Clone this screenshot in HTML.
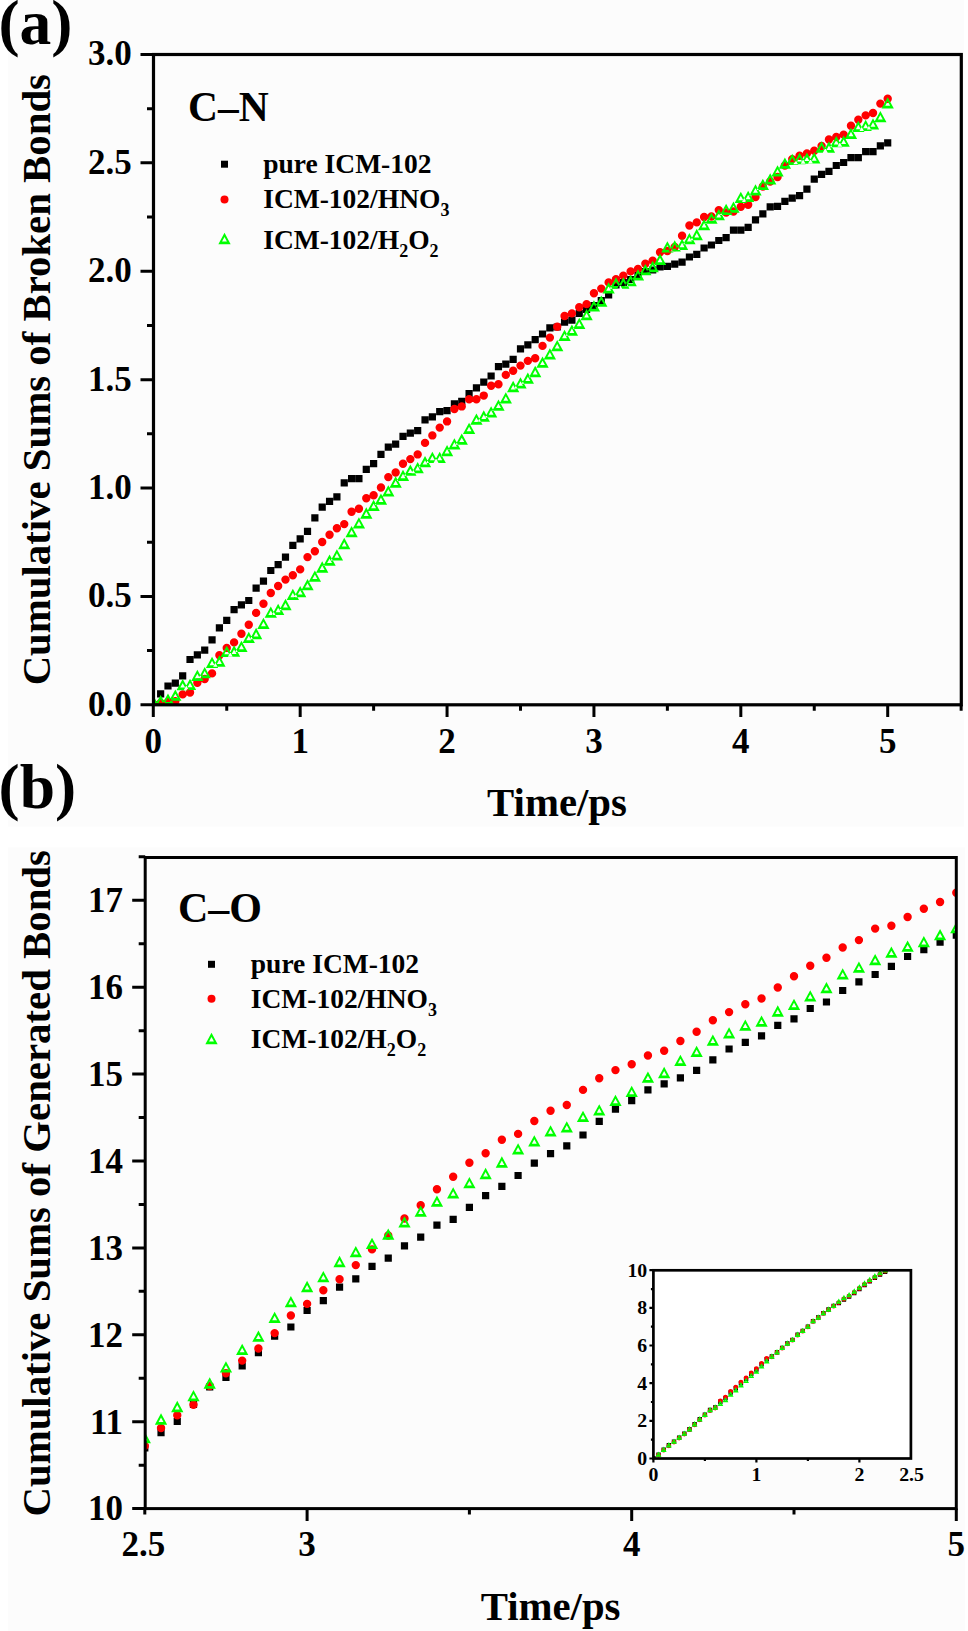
<!DOCTYPE html><html><head><meta charset="utf-8"><style>html,body{margin:0;padding:0;background:#fff;}svg{display:block;}</style></head><body>
<svg width="968" height="1631" viewBox="0 0 968 1631">
<rect x="0" y="0" width="968" height="1631" fill="#ffffff"/>
<rect x="8" y="0" width="956" height="826.5" fill="#fcfcfc"/>
<rect x="8" y="847.5" width="957" height="783.5" fill="#fcfcfc"/>
<defs><clipPath id="ca"><rect x="153.5" y="54.5" width="807.8" height="650.3"/></clipPath>
<clipPath id="cb"><rect x="145.2" y="857.5" width="811.1" height="651.1"/></clipPath>
<clipPath id="ci"><rect x="653.4" y="1270.3" width="257.5" height="188.2"/></clipPath></defs>
<g clip-path="url(#ca)">
<path d="M149.7 701.2h7.2v7.2h-7.2zM157.04 690.3h7.2v7.2h-7.2zM164.39 682.4h7.2v7.2h-7.2zM171.73 679.6h7.2v7.2h-7.2zM179.08 672.2h7.2v7.2h-7.2zM186.42 655.9h7.2v7.2h-7.2zM193.76 651.3h7.2v7.2h-7.2zM201.11 646.6h7.2v7.2h-7.2zM208.45 636.2h7.2v7.2h-7.2zM215.8 624.3h7.2v7.2h-7.2zM223.14 616.7h7.2v7.2h-7.2zM230.48 606.1h7.2v7.2h-7.2zM237.83 601.2h7.2v7.2h-7.2zM245.17 596.9h7.2v7.2h-7.2zM252.52 584.6h7.2v7.2h-7.2zM259.86 577.6h7.2v7.2h-7.2zM267.2 566.9h7.2v7.2h-7.2zM274.55 561h7.2v7.2h-7.2zM281.89 553.5h7.2v7.2h-7.2zM289.24 541.7h7.2v7.2h-7.2zM296.58 535.2h7.2v7.2h-7.2zM303.92 527.7h7.2v7.2h-7.2zM311.27 514.3h7.2v7.2h-7.2zM318.61 503.6h7.2v7.2h-7.2zM325.96 497.7h7.2v7.2h-7.2zM333.3 493.2h7.2v7.2h-7.2zM340.64 479.2h7.2v7.2h-7.2zM347.99 475.1h7.2v7.2h-7.2zM355.33 475.1h7.2v7.2h-7.2zM362.68 465.8h7.2v7.2h-7.2zM370.02 460.1h7.2v7.2h-7.2zM377.36 450.8h7.2v7.2h-7.2zM384.71 443.6h7.2v7.2h-7.2zM392.05 440.5h7.2v7.2h-7.2zM399.4 432.7h7.2v7.2h-7.2zM406.74 429.6h7.2v7.2h-7.2zM414.08 427.1h7.2v7.2h-7.2zM421.43 416.3h7.2v7.2h-7.2zM428.77 413.2h7.2v7.2h-7.2zM436.12 408h7.2v7.2h-7.2zM443.46 407h7.2v7.2h-7.2zM450.8 400.3h7.2v7.2h-7.2zM458.15 397.7h7.2v7.2h-7.2zM465.49 389.9h7.2v7.2h-7.2zM472.84 384.3h7.2v7.2h-7.2zM480.18 378.6h7.2v7.2h-7.2zM487.52 372.4h7.2v7.2h-7.2zM494.87 363.1h7.2v7.2h-7.2zM502.21 360.5h7.2v7.2h-7.2zM509.56 355.8h7.2v7.2h-7.2zM516.9 345.2h7.2v7.2h-7.2zM524.24 341.3h7.2v7.2h-7.2zM531.59 336.1h7.2v7.2h-7.2zM538.93 330.4h7.2v7.2h-7.2zM546.28 324.2h7.2v7.2h-7.2zM553.62 323.4h7.2v7.2h-7.2zM560.96 318.5h7.2v7.2h-7.2zM568.31 316.5h7.2v7.2h-7.2zM575.65 309.9h7.2v7.2h-7.2zM583 305.9h7.2v7.2h-7.2zM590.34 301.9h7.2v7.2h-7.2zM597.68 296.9h7.2v7.2h-7.2zM605.03 291.4h7.2v7.2h-7.2zM612.37 281.4h7.2v7.2h-7.2zM619.72 278.9h7.2v7.2h-7.2zM627.06 275.9h7.2v7.2h-7.2zM634.4 271.9h7.2v7.2h-7.2zM641.75 267.9h7.2v7.2h-7.2zM649.09 266.4h7.2v7.2h-7.2zM656.44 263.4h7.2v7.2h-7.2zM663.78 262.7h7.2v7.2h-7.2zM671.12 260.6h7.2v7.2h-7.2zM678.47 258.5h7.2v7.2h-7.2zM685.81 253.4h7.2v7.2h-7.2zM693.16 250.8h7.2v7.2h-7.2zM700.5 244.4h7.2v7.2h-7.2zM707.84 241.4h7.2v7.2h-7.2zM715.19 236.9h7.2v7.2h-7.2zM722.53 234.1h7.2v7.2h-7.2zM729.88 226.5h7.2v7.2h-7.2zM737.22 226.5h7.2v7.2h-7.2zM744.56 223.8h7.2v7.2h-7.2zM751.91 216.2h7.2v7.2h-7.2zM759.25 210.3h7.2v7.2h-7.2zM766.6 203.2h7.2v7.2h-7.2zM773.94 202.7h7.2v7.2h-7.2zM781.28 197.8h7.2v7.2h-7.2zM788.63 194.6h7.2v7.2h-7.2zM795.97 192h7.2v7.2h-7.2zM803.32 185.6h7.2v7.2h-7.2zM810.66 175.6h7.2v7.2h-7.2zM818 170.7h7.2v7.2h-7.2zM825.35 167.8h7.2v7.2h-7.2zM832.69 161.9h7.2v7.2h-7.2zM840.04 158.9h7.2v7.2h-7.2zM847.38 154h7.2v7.2h-7.2zM854.72 154h7.2v7.2h-7.2zM862.07 148.1h7.2v7.2h-7.2zM869.41 148.1h7.2v7.2h-7.2zM876.76 142.2h7.2v7.2h-7.2zM884.1 139.3h7.2v7.2h-7.2z" fill="#000"/>
<path d="M149.1 704.8a4.2 4.2 0 1 0 8.4 0a4.2 4.2 0 1 0 -8.4 0zM156.44 703a4.2 4.2 0 1 0 8.4 0a4.2 4.2 0 1 0 -8.4 0zM163.79 702a4.2 4.2 0 1 0 8.4 0a4.2 4.2 0 1 0 -8.4 0zM171.13 701.3a4.2 4.2 0 1 0 8.4 0a4.2 4.2 0 1 0 -8.4 0zM178.48 694.4a4.2 4.2 0 1 0 8.4 0a4.2 4.2 0 1 0 -8.4 0zM185.82 692.5a4.2 4.2 0 1 0 8.4 0a4.2 4.2 0 1 0 -8.4 0zM193.16 682.7a4.2 4.2 0 1 0 8.4 0a4.2 4.2 0 1 0 -8.4 0zM200.51 679a4.2 4.2 0 1 0 8.4 0a4.2 4.2 0 1 0 -8.4 0zM207.85 673.4a4.2 4.2 0 1 0 8.4 0a4.2 4.2 0 1 0 -8.4 0zM215.2 655.3a4.2 4.2 0 1 0 8.4 0a4.2 4.2 0 1 0 -8.4 0zM222.54 647.9a4.2 4.2 0 1 0 8.4 0a4.2 4.2 0 1 0 -8.4 0zM229.88 642.4a4.2 4.2 0 1 0 8.4 0a4.2 4.2 0 1 0 -8.4 0zM237.23 633.8a4.2 4.2 0 1 0 8.4 0a4.2 4.2 0 1 0 -8.4 0zM244.57 624.7a4.2 4.2 0 1 0 8.4 0a4.2 4.2 0 1 0 -8.4 0zM251.92 612.9a4.2 4.2 0 1 0 8.4 0a4.2 4.2 0 1 0 -8.4 0zM259.26 603.7a4.2 4.2 0 1 0 8.4 0a4.2 4.2 0 1 0 -8.4 0zM266.6 593a4.2 4.2 0 1 0 8.4 0a4.2 4.2 0 1 0 -8.4 0zM273.95 586a4.2 4.2 0 1 0 8.4 0a4.2 4.2 0 1 0 -8.4 0zM281.29 579.6a4.2 4.2 0 1 0 8.4 0a4.2 4.2 0 1 0 -8.4 0zM288.64 575.3a4.2 4.2 0 1 0 8.4 0a4.2 4.2 0 1 0 -8.4 0zM295.98 569.4a4.2 4.2 0 1 0 8.4 0a4.2 4.2 0 1 0 -8.4 0zM303.32 557.1a4.2 4.2 0 1 0 8.4 0a4.2 4.2 0 1 0 -8.4 0zM310.67 551.2a4.2 4.2 0 1 0 8.4 0a4.2 4.2 0 1 0 -8.4 0zM318.01 542a4.2 4.2 0 1 0 8.4 0a4.2 4.2 0 1 0 -8.4 0zM325.36 534.8a4.2 4.2 0 1 0 8.4 0a4.2 4.2 0 1 0 -8.4 0zM332.7 528.3a4.2 4.2 0 1 0 8.4 0a4.2 4.2 0 1 0 -8.4 0zM340.04 524.1a4.2 4.2 0 1 0 8.4 0a4.2 4.2 0 1 0 -8.4 0zM347.39 511.8a4.2 4.2 0 1 0 8.4 0a4.2 4.2 0 1 0 -8.4 0zM354.73 508.7a4.2 4.2 0 1 0 8.4 0a4.2 4.2 0 1 0 -8.4 0zM362.08 498.3a4.2 4.2 0 1 0 8.4 0a4.2 4.2 0 1 0 -8.4 0zM369.42 495.2a4.2 4.2 0 1 0 8.4 0a4.2 4.2 0 1 0 -8.4 0zM376.76 487.5a4.2 4.2 0 1 0 8.4 0a4.2 4.2 0 1 0 -8.4 0zM384.11 477.1a4.2 4.2 0 1 0 8.4 0a4.2 4.2 0 1 0 -8.4 0zM391.45 472.5a4.2 4.2 0 1 0 8.4 0a4.2 4.2 0 1 0 -8.4 0zM398.8 463.7a4.2 4.2 0 1 0 8.4 0a4.2 4.2 0 1 0 -8.4 0zM406.14 459.1a4.2 4.2 0 1 0 8.4 0a4.2 4.2 0 1 0 -8.4 0zM413.48 454.4a4.2 4.2 0 1 0 8.4 0a4.2 4.2 0 1 0 -8.4 0zM420.83 442.9a4.2 4.2 0 1 0 8.4 0a4.2 4.2 0 1 0 -8.4 0zM428.17 435.4a4.2 4.2 0 1 0 8.4 0a4.2 4.2 0 1 0 -8.4 0zM435.52 427.6a4.2 4.2 0 1 0 8.4 0a4.2 4.2 0 1 0 -8.4 0zM442.86 421.4a4.2 4.2 0 1 0 8.4 0a4.2 4.2 0 1 0 -8.4 0zM450.2 409a4.2 4.2 0 1 0 8.4 0a4.2 4.2 0 1 0 -8.4 0zM457.55 406.4a4.2 4.2 0 1 0 8.4 0a4.2 4.2 0 1 0 -8.4 0zM464.89 399.2a4.2 4.2 0 1 0 8.4 0a4.2 4.2 0 1 0 -8.4 0zM472.24 399.2a4.2 4.2 0 1 0 8.4 0a4.2 4.2 0 1 0 -8.4 0zM479.58 395.6a4.2 4.2 0 1 0 8.4 0a4.2 4.2 0 1 0 -8.4 0zM486.92 385.8a4.2 4.2 0 1 0 8.4 0a4.2 4.2 0 1 0 -8.4 0zM494.27 384.2a4.2 4.2 0 1 0 8.4 0a4.2 4.2 0 1 0 -8.4 0zM501.61 374.9a4.2 4.2 0 1 0 8.4 0a4.2 4.2 0 1 0 -8.4 0zM508.96 370.8a4.2 4.2 0 1 0 8.4 0a4.2 4.2 0 1 0 -8.4 0zM516.3 365.6a4.2 4.2 0 1 0 8.4 0a4.2 4.2 0 1 0 -8.4 0zM523.64 360.9a4.2 4.2 0 1 0 8.4 0a4.2 4.2 0 1 0 -8.4 0zM530.99 358.3a4.2 4.2 0 1 0 8.4 0a4.2 4.2 0 1 0 -8.4 0zM538.33 345.9a4.2 4.2 0 1 0 8.4 0a4.2 4.2 0 1 0 -8.4 0zM545.68 337.6a4.2 4.2 0 1 0 8.4 0a4.2 4.2 0 1 0 -8.4 0zM553.02 326.8a4.2 4.2 0 1 0 8.4 0a4.2 4.2 0 1 0 -8.4 0zM560.36 316a4.2 4.2 0 1 0 8.4 0a4.2 4.2 0 1 0 -8.4 0zM567.71 313.4a4.2 4.2 0 1 0 8.4 0a4.2 4.2 0 1 0 -8.4 0zM575.05 307.2a4.2 4.2 0 1 0 8.4 0a4.2 4.2 0 1 0 -8.4 0zM582.4 304.1a4.2 4.2 0 1 0 8.4 0a4.2 4.2 0 1 0 -8.4 0zM589.74 293.2a4.2 4.2 0 1 0 8.4 0a4.2 4.2 0 1 0 -8.4 0zM597.08 288.6a4.2 4.2 0 1 0 8.4 0a4.2 4.2 0 1 0 -8.4 0zM604.43 282.4a4.2 4.2 0 1 0 8.4 0a4.2 4.2 0 1 0 -8.4 0zM611.77 279.3a4.2 4.2 0 1 0 8.4 0a4.2 4.2 0 1 0 -8.4 0zM619.12 275.6a4.2 4.2 0 1 0 8.4 0a4.2 4.2 0 1 0 -8.4 0zM626.46 271.4a4.2 4.2 0 1 0 8.4 0a4.2 4.2 0 1 0 -8.4 0zM633.8 268.9a4.2 4.2 0 1 0 8.4 0a4.2 4.2 0 1 0 -8.4 0zM641.15 263.7a4.2 4.2 0 1 0 8.4 0a4.2 4.2 0 1 0 -8.4 0zM648.49 260.6a4.2 4.2 0 1 0 8.4 0a4.2 4.2 0 1 0 -8.4 0zM655.84 252.3a4.2 4.2 0 1 0 8.4 0a4.2 4.2 0 1 0 -8.4 0zM663.18 251a4.2 4.2 0 1 0 8.4 0a4.2 4.2 0 1 0 -8.4 0zM670.52 247a4.2 4.2 0 1 0 8.4 0a4.2 4.2 0 1 0 -8.4 0zM677.87 235.8a4.2 4.2 0 1 0 8.4 0a4.2 4.2 0 1 0 -8.4 0zM685.21 225.5a4.2 4.2 0 1 0 8.4 0a4.2 4.2 0 1 0 -8.4 0zM692.56 222.4a4.2 4.2 0 1 0 8.4 0a4.2 4.2 0 1 0 -8.4 0zM699.9 217a4.2 4.2 0 1 0 8.4 0a4.2 4.2 0 1 0 -8.4 0zM707.24 216.5a4.2 4.2 0 1 0 8.4 0a4.2 4.2 0 1 0 -8.4 0zM714.59 210.1a4.2 4.2 0 1 0 8.4 0a4.2 4.2 0 1 0 -8.4 0zM721.93 212.5a4.2 4.2 0 1 0 8.4 0a4.2 4.2 0 1 0 -8.4 0zM729.28 211.5a4.2 4.2 0 1 0 8.4 0a4.2 4.2 0 1 0 -8.4 0zM736.62 206.8a4.2 4.2 0 1 0 8.4 0a4.2 4.2 0 1 0 -8.4 0zM743.96 204.7a4.2 4.2 0 1 0 8.4 0a4.2 4.2 0 1 0 -8.4 0zM751.31 197.1a4.2 4.2 0 1 0 8.4 0a4.2 4.2 0 1 0 -8.4 0zM758.65 186.5a4.2 4.2 0 1 0 8.4 0a4.2 4.2 0 1 0 -8.4 0zM766 181.5a4.2 4.2 0 1 0 8.4 0a4.2 4.2 0 1 0 -8.4 0zM773.34 177a4.2 4.2 0 1 0 8.4 0a4.2 4.2 0 1 0 -8.4 0zM780.68 165.5a4.2 4.2 0 1 0 8.4 0a4.2 4.2 0 1 0 -8.4 0zM788.03 159.1a4.2 4.2 0 1 0 8.4 0a4.2 4.2 0 1 0 -8.4 0zM795.37 155.8a4.2 4.2 0 1 0 8.4 0a4.2 4.2 0 1 0 -8.4 0zM802.72 153.4a4.2 4.2 0 1 0 8.4 0a4.2 4.2 0 1 0 -8.4 0zM810.06 150.8a4.2 4.2 0 1 0 8.4 0a4.2 4.2 0 1 0 -8.4 0zM817.4 146a4.2 4.2 0 1 0 8.4 0a4.2 4.2 0 1 0 -8.4 0zM824.75 139.5a4.2 4.2 0 1 0 8.4 0a4.2 4.2 0 1 0 -8.4 0zM832.09 137a4.2 4.2 0 1 0 8.4 0a4.2 4.2 0 1 0 -8.4 0zM839.44 134.6a4.2 4.2 0 1 0 8.4 0a4.2 4.2 0 1 0 -8.4 0zM846.78 125.7a4.2 4.2 0 1 0 8.4 0a4.2 4.2 0 1 0 -8.4 0zM854.12 119.8a4.2 4.2 0 1 0 8.4 0a4.2 4.2 0 1 0 -8.4 0zM861.47 115.4a4.2 4.2 0 1 0 8.4 0a4.2 4.2 0 1 0 -8.4 0zM868.81 113a4.2 4.2 0 1 0 8.4 0a4.2 4.2 0 1 0 -8.4 0zM876.16 103.6a4.2 4.2 0 1 0 8.4 0a4.2 4.2 0 1 0 -8.4 0zM883.5 98.7a4.2 4.2 0 1 0 8.4 0a4.2 4.2 0 1 0 -8.4 0z" fill="#ff0000"/>
<path d="M153.3 695.55L159.45 706.85L147.15 706.85ZM150.86 704.12L155.74 704.12L153.3 699.63ZM160.64 695.05L166.79 706.35L154.49 706.35ZM158.2 703.62L163.09 703.62L160.64 699.13ZM167.99 693.55L174.14 704.85L161.84 704.85ZM165.54 702.12L170.43 702.12L167.99 697.63ZM175.33 689.55L181.48 700.85L169.18 700.85ZM172.89 698.12L177.78 698.12L175.33 693.63ZM182.68 679.05L188.83 690.35L176.53 690.35ZM180.23 687.62L185.12 687.62L182.68 683.13ZM190.02 678.65L196.17 689.95L183.87 689.95ZM187.58 687.22L192.46 687.22L190.02 682.73ZM197.36 669.75L203.51 681.05L191.21 681.05ZM194.92 678.32L199.81 678.32L197.36 673.83ZM204.71 666.95L210.86 678.25L198.56 678.25ZM202.26 675.52L207.15 675.52L204.71 671.03ZM212.05 656.75L218.2 668.05L205.9 668.05ZM209.61 665.32L214.5 665.32L212.05 660.83ZM219.4 655.35L225.55 666.65L213.25 666.65ZM216.95 663.92L221.84 663.92L219.4 659.43ZM226.74 645.65L232.89 656.95L220.59 656.95ZM224.3 654.22L229.18 654.22L226.74 649.73ZM234.08 645.35L240.23 656.65L227.93 656.65ZM231.64 653.92L236.53 653.92L234.08 649.43ZM241.43 640.75L247.58 652.05L235.28 652.05ZM238.98 649.32L243.87 649.32L241.43 644.83ZM248.77 631.65L254.92 642.95L242.62 642.95ZM246.33 640.22L251.22 640.22L248.77 635.73ZM256.12 627.85L262.27 639.15L249.97 639.15ZM253.67 636.42L258.56 636.42L256.12 631.93ZM263.46 617.65L269.61 628.95L257.31 628.95ZM261.02 626.22L265.9 626.22L263.46 621.73ZM270.8 606.45L276.95 617.75L264.65 617.75ZM268.36 615.02L273.25 615.02L270.8 610.53ZM278.15 603.75L284.3 615.05L272 615.05ZM275.7 612.32L280.59 612.32L278.15 607.83ZM285.49 598.85L291.64 610.15L279.34 610.15ZM283.05 607.42L287.94 607.42L285.49 602.93ZM292.84 588.75L298.99 600.05L286.69 600.05ZM290.39 597.32L295.28 597.32L292.84 592.83ZM300.18 586.05L306.33 597.35L294.03 597.35ZM297.74 594.62L302.62 594.62L300.18 590.13ZM307.52 579.05L313.67 590.35L301.37 590.35ZM305.08 587.62L309.97 587.62L307.52 583.13ZM314.87 570.45L321.02 581.75L308.72 581.75ZM312.42 579.02L317.31 579.02L314.87 574.53ZM322.21 561.35L328.36 572.65L316.06 572.65ZM319.77 569.92L324.66 569.92L322.21 565.43ZM329.56 554.55L335.71 565.85L323.41 565.85ZM327.11 563.12L332 563.12L329.56 558.63ZM336.9 549.25L343.05 560.55L330.75 560.55ZM334.46 557.82L339.34 557.82L336.9 553.33ZM344.24 537.85L350.39 549.15L338.09 549.15ZM341.8 546.42L346.69 546.42L344.24 541.93ZM351.59 525.95L357.74 537.25L345.44 537.25ZM349.14 534.52L354.03 534.52L351.59 530.03ZM358.93 517.15L365.08 528.45L352.78 528.45ZM356.49 525.72L361.38 525.72L358.93 521.23ZM366.28 507.35L372.43 518.65L360.13 518.65ZM363.83 515.92L368.72 515.92L366.28 511.43ZM373.62 499.65L379.77 510.95L367.47 510.95ZM371.18 508.22L376.06 508.22L373.62 503.73ZM380.96 493.45L387.11 504.75L374.81 504.75ZM378.52 502.02L383.41 502.02L380.96 497.53ZM388.31 485.15L394.46 496.45L382.16 496.45ZM385.86 493.72L390.75 493.72L388.31 489.23ZM395.65 476.35L401.8 487.65L389.5 487.65ZM393.21 484.92L398.1 484.92L395.65 480.43ZM403 469.65L409.15 480.95L396.85 480.95ZM400.55 478.22L405.44 478.22L403 473.73ZM410.34 464.55L416.49 475.85L404.19 475.85ZM407.9 473.12L412.78 473.12L410.34 468.63ZM417.68 461.95L423.83 473.25L411.53 473.25ZM415.24 470.52L420.13 470.52L417.68 466.03ZM425.03 456.05L431.18 467.35L418.88 467.35ZM422.58 464.62L427.47 464.62L425.03 460.13ZM432.37 451.65L438.52 462.95L426.22 462.95ZM429.93 460.22L434.82 460.22L432.37 455.73ZM439.72 451.65L445.87 462.95L433.57 462.95ZM437.27 460.22L442.16 460.22L439.72 455.73ZM447.06 444.95L453.21 456.25L440.91 456.25ZM444.62 453.52L449.5 453.52L447.06 449.03ZM454.4 438.25L460.55 449.55L448.25 449.55ZM451.96 446.82L456.85 446.82L454.4 442.33ZM461.75 433.55L467.9 444.85L455.6 444.85ZM459.3 442.12L464.19 442.12L461.75 437.63ZM469.09 422.75L475.24 434.05L462.94 434.05ZM466.65 431.32L471.54 431.32L469.09 426.83ZM476.44 413.45L482.59 424.75L470.29 424.75ZM473.99 422.02L478.88 422.02L476.44 417.53ZM483.78 410.35L489.93 421.65L477.63 421.65ZM481.34 418.92L486.22 418.92L483.78 414.43ZM491.12 406.15L497.27 417.45L484.97 417.45ZM488.68 414.72L493.57 414.72L491.12 410.23ZM498.47 399.45L504.62 410.75L492.32 410.75ZM496.02 408.02L500.91 408.02L498.47 403.53ZM505.81 392.25L511.96 403.55L499.66 403.55ZM503.37 400.82L508.26 400.82L505.81 396.33ZM513.16 380.85L519.31 392.15L507.01 392.15ZM510.71 389.42L515.6 389.42L513.16 384.93ZM520.5 377.15L526.65 388.45L514.35 388.45ZM518.06 385.72L522.94 385.72L520.5 381.23ZM527.84 372.55L533.99 383.85L521.69 383.85ZM525.4 381.12L530.29 381.12L527.84 376.63ZM535.19 365.85L541.34 377.15L529.04 377.15ZM532.74 374.42L537.63 374.42L535.19 369.93ZM542.53 356.55L548.68 367.85L536.38 367.85ZM540.09 365.12L544.98 365.12L542.53 360.63ZM549.88 348.25L556.03 359.55L543.73 359.55ZM547.43 356.82L552.32 356.82L549.88 352.33ZM557.22 339.95L563.37 351.25L551.07 351.25ZM554.78 348.52L559.66 348.52L557.22 344.03ZM564.56 329.65L570.71 340.95L558.41 340.95ZM562.12 338.22L567.01 338.22L564.56 333.73ZM571.91 324.45L578.06 335.75L565.76 335.75ZM569.46 333.02L574.35 333.02L571.91 328.53ZM579.25 317.75L585.4 329.05L573.1 329.05ZM576.81 326.32L581.7 326.32L579.25 321.83ZM586.6 308.95L592.75 320.25L580.45 320.25ZM584.15 317.52L589.04 317.52L586.6 313.03ZM593.94 300.25L600.09 311.55L587.79 311.55ZM591.5 308.82L596.38 308.82L593.94 304.33ZM601.28 295.55L607.43 306.85L595.13 306.85ZM598.84 304.12L603.73 304.12L601.28 299.63ZM608.63 282.15L614.78 293.45L602.48 293.45ZM606.18 290.72L611.07 290.72L608.63 286.23ZM615.97 277.35L622.12 288.65L609.82 288.65ZM613.53 285.92L618.42 285.92L615.97 281.43ZM623.32 277.35L629.47 288.65L617.17 288.65ZM620.87 285.92L625.76 285.92L623.32 281.43ZM630.66 274.85L636.81 286.15L624.51 286.15ZM628.22 283.42L633.1 283.42L630.66 278.93ZM638 269.15L644.15 280.45L631.85 280.45ZM635.56 277.72L640.45 277.72L638 273.23ZM645.35 263.95L651.5 275.25L639.2 275.25ZM642.9 272.52L647.79 272.52L645.35 268.03ZM652.69 260.85L658.84 272.15L646.54 272.15ZM650.25 269.42L655.14 269.42L652.69 264.93ZM660.04 253.65L666.19 264.95L653.89 264.95ZM657.59 262.22L662.48 262.22L660.04 257.73ZM667.38 241.25L673.53 252.55L661.23 252.55ZM664.94 249.82L669.82 249.82L667.38 245.33ZM674.72 240.25L680.87 251.55L668.57 251.55ZM672.28 248.82L677.17 248.82L674.72 244.33ZM682.07 238.65L688.22 249.95L675.92 249.95ZM679.62 247.22L684.51 247.22L682.07 242.73ZM689.41 232.95L695.56 244.25L683.26 244.25ZM686.97 241.52L691.86 241.52L689.41 237.03ZM696.76 228.85L702.91 240.15L690.61 240.15ZM694.31 237.42L699.2 237.42L696.76 232.93ZM704.1 218.95L710.25 230.25L697.95 230.25ZM701.66 227.52L706.54 227.52L704.1 223.03ZM711.44 212.55L717.59 223.85L705.29 223.85ZM709 221.12L713.89 221.12L711.44 216.63ZM718.79 209.05L724.94 220.35L712.64 220.35ZM716.34 217.62L721.23 217.62L718.79 213.13ZM726.13 203.65L732.28 214.95L719.98 214.95ZM723.69 212.22L728.58 212.22L726.13 207.73ZM733.48 201.45L739.63 212.75L727.33 212.75ZM731.03 210.02L735.92 210.02L733.48 205.53ZM740.82 191.75L746.97 203.05L734.67 203.05ZM738.38 200.32L743.26 200.32L740.82 195.83ZM748.16 190.65L754.31 201.95L742.01 201.95ZM745.72 199.22L750.61 199.22L748.16 194.73ZM755.51 184.15L761.66 195.45L749.36 195.45ZM753.06 192.72L757.95 192.72L755.51 188.23ZM762.85 178.65L769 189.95L756.7 189.95ZM760.41 187.22L765.3 187.22L762.85 182.73ZM770.2 173.25L776.35 184.55L764.05 184.55ZM767.75 181.82L772.64 181.82L770.2 177.33ZM777.54 165.15L783.69 176.45L771.39 176.45ZM775.1 173.72L779.98 173.72L777.54 169.23ZM784.88 157.55L791.03 168.85L778.73 168.85ZM782.44 166.12L787.33 166.12L784.88 161.63ZM792.23 153.75L798.38 165.05L786.08 165.05ZM789.78 162.32L794.67 162.32L792.23 157.83ZM799.57 152.85L805.72 164.15L793.42 164.15ZM797.13 161.42L802.02 161.42L799.57 156.93ZM806.92 152.55L813.07 163.85L800.77 163.85ZM804.47 161.12L809.36 161.12L806.92 156.63ZM814.26 152.15L820.41 163.45L808.11 163.45ZM811.82 160.72L816.7 160.72L814.26 156.23ZM821.6 141.35L827.75 152.65L815.45 152.65ZM819.16 149.92L824.05 149.92L821.6 145.43ZM828.95 141.35L835.1 152.65L822.8 152.65ZM826.5 149.92L831.39 149.92L828.95 145.43ZM836.29 135.95L842.44 147.25L830.14 147.25ZM833.85 144.52L838.74 144.52L836.29 140.03ZM843.64 135.45L849.79 146.75L837.49 146.75ZM841.19 144.02L846.08 144.02L843.64 139.53ZM850.98 127.65L857.13 138.95L844.83 138.95ZM848.54 136.22L853.42 136.22L850.98 131.73ZM858.32 120.75L864.47 132.05L852.17 132.05ZM855.88 129.32L860.77 129.32L858.32 124.83ZM865.67 119.75L871.82 131.05L859.52 131.05ZM863.22 128.32L868.11 128.32L865.67 123.83ZM873.01 118.25L879.16 129.55L866.86 129.55ZM870.57 126.82L875.46 126.82L873.01 122.33ZM880.36 110.95L886.51 122.25L874.21 122.25ZM877.91 119.52L882.8 119.52L880.36 115.03ZM887.7 97.15L893.85 108.45L881.55 108.45ZM885.26 105.72L890.14 105.72L887.7 101.23Z" fill="#00ff00" fill-rule="evenodd"/>
</g>
<path d="M153.3 704.8V717.1M300.18 704.8V717.1M447.06 704.8V717.1M593.94 704.8V717.1M740.82 704.8V717.1M887.7 704.8V717.1M226.74 704.8V710.8M373.62 704.8V710.8M520.5 704.8V710.8M667.38 704.8V710.8M814.26 704.8V710.8M961.14 704.8V710.8M153.5 704.8H140.5M153.5 596.41H140.5M153.5 488.03H140.5M153.5 379.64H140.5M153.5 271.26H140.5M153.5 162.87H140.5M153.5 54.49H140.5M153.5 650.61H147M153.5 542.22H147M153.5 433.84H147M153.5 325.45H147M153.5 217.07H147M153.5 108.68H147" stroke="#000" stroke-width="3" fill="none"/>
<rect x="153.5" y="54.5" width="807.8" height="650.3" stroke="#000" stroke-width="3.2" fill="none"/>
<text x="131.7" y="715.8" font-family="Liberation Serif" font-weight="bold" font-size="35" text-anchor="end">0.0</text>
<text x="131.7" y="607.41" font-family="Liberation Serif" font-weight="bold" font-size="35" text-anchor="end">0.5</text>
<text x="131.7" y="499.03" font-family="Liberation Serif" font-weight="bold" font-size="35" text-anchor="end">1.0</text>
<text x="131.7" y="390.64" font-family="Liberation Serif" font-weight="bold" font-size="35" text-anchor="end">1.5</text>
<text x="131.7" y="282.26" font-family="Liberation Serif" font-weight="bold" font-size="35" text-anchor="end">2.0</text>
<text x="131.7" y="173.87" font-family="Liberation Serif" font-weight="bold" font-size="35" text-anchor="end">2.5</text>
<text x="131.7" y="65.49" font-family="Liberation Serif" font-weight="bold" font-size="35" text-anchor="end">3.0</text>
<text x="153.3" y="753" font-family="Liberation Serif" font-weight="bold" font-size="35" text-anchor="middle">0</text>
<text x="300.18" y="753" font-family="Liberation Serif" font-weight="bold" font-size="35" text-anchor="middle">1</text>
<text x="447.06" y="753" font-family="Liberation Serif" font-weight="bold" font-size="35" text-anchor="middle">2</text>
<text x="593.94" y="753" font-family="Liberation Serif" font-weight="bold" font-size="35" text-anchor="middle">3</text>
<text x="740.82" y="753" font-family="Liberation Serif" font-weight="bold" font-size="35" text-anchor="middle">4</text>
<text x="887.7" y="753" font-family="Liberation Serif" font-weight="bold" font-size="35" text-anchor="middle">5</text>
<text x="557" y="816" font-family="Liberation Serif" font-weight="bold" font-size="40.8" text-anchor="middle">Time/ps</text>
<text transform="translate(50,379.7) rotate(-90)" x="0" y="0" font-family="Liberation Serif" font-weight="bold" font-size="40.8" text-anchor="middle">Cumulative Sums of Broken Bonds</text>
<text x="-1.6" y="44" font-family="Liberation Serif" font-weight="bold" font-size="63.5">(a)</text>
<text x="188" y="120.5" font-family="Liberation Serif" font-weight="bold" font-size="41.5">C–N</text>
<path d="M221 160.7h7v7h-7z" fill="#000"/><path d="M220.5 199.5a4 4 0 1 0 8 0a4 4 0 1 0 -8 0z" fill="#ff0000"/><path d="M224.5 232.85L230.65 244.15L218.35 244.15ZM222.06 241.42L226.94 241.42L224.5 236.93Z" fill="#00ff00" fill-rule="evenodd"/>
<text x="263.2" y="173.2" font-family="Liberation Serif" font-weight="bold" font-size="27.5">pure ICM-102</text>
<text x="263.2" y="208.2" font-family="Liberation Serif" font-weight="bold" font-size="27.5">ICM-102/HNO<tspan font-size="18" dy="7.8">3</tspan></text>
<text x="263.2" y="249.1" font-family="Liberation Serif" font-weight="bold" font-size="27.5">ICM-102/H<tspan font-size="18" dy="7.8">2</tspan><tspan dy="-7.8">O</tspan><tspan font-size="18" dy="7.8">2</tspan></text>
<g clip-path="url(#cb)">
<path d="M141.2 1444.4h7.2v7.2h-7.2zM157.43 1429h7.2v7.2h-7.2zM173.66 1417.9h7.2v7.2h-7.2zM189.89 1400.9h7.2v7.2h-7.2zM206.12 1383.4h7.2v7.2h-7.2zM222.35 1373.8h7.2v7.2h-7.2zM238.58 1362.3h7.2v7.2h-7.2zM254.81 1349h7.2v7.2h-7.2zM271.04 1332.5h7.2v7.2h-7.2zM287.27 1323.4h7.2v7.2h-7.2zM303.5 1306.9h7.2v7.2h-7.2zM319.73 1297h7.2v7.2h-7.2zM335.96 1283.6h7.2v7.2h-7.2zM352.19 1275.2h7.2v7.2h-7.2zM368.42 1262.8h7.2v7.2h-7.2zM384.65 1254.6h7.2v7.2h-7.2zM400.88 1242.2h7.2v7.2h-7.2zM417.11 1233.6h7.2v7.2h-7.2zM433.34 1221.5h7.2v7.2h-7.2zM449.57 1215.7h7.2v7.2h-7.2zM465.8 1203.8h7.2v7.2h-7.2zM482.03 1192h7.2v7.2h-7.2zM498.26 1182.7h7.2v7.2h-7.2zM514.49 1171.9h7.2v7.2h-7.2zM530.72 1159.5h7.2v7.2h-7.2zM546.95 1150.1h7.2v7.2h-7.2zM563.18 1142.2h7.2v7.2h-7.2zM579.41 1131.4h7.2v7.2h-7.2zM595.64 1117.7h7.2v7.2h-7.2zM611.87 1105.5h7.2v7.2h-7.2zM628.1 1097.1h7.2v7.2h-7.2zM644.33 1086.2h7.2v7.2h-7.2zM660.56 1080.2h7.2v7.2h-7.2zM676.79 1074.3h7.2v7.2h-7.2zM693.02 1066.7h7.2v7.2h-7.2zM709.25 1056.2h7.2v7.2h-7.2zM725.48 1045.4h7.2v7.2h-7.2zM741.71 1038.7h7.2v7.2h-7.2zM757.94 1032.3h7.2v7.2h-7.2zM774.17 1021.8h7.2v7.2h-7.2zM790.4 1015.2h7.2v7.2h-7.2zM806.63 1004.9h7.2v7.2h-7.2zM822.86 998.4h7.2v7.2h-7.2zM839.09 986.9h7.2v7.2h-7.2zM855.32 978.3h7.2v7.2h-7.2zM871.55 970.9h7.2v7.2h-7.2zM887.78 962.7h7.2v7.2h-7.2zM904.01 952.9h7.2v7.2h-7.2zM920.24 946h7.2v7.2h-7.2zM936.47 938.5h7.2v7.2h-7.2zM952.7 931.5h7.2v7.2h-7.2z" fill="#000"/>
<path d="M140.6 1445.9a4.2 4.2 0 1 0 8.4 0a4.2 4.2 0 1 0 -8.4 0zM156.83 1428.1a4.2 4.2 0 1 0 8.4 0a4.2 4.2 0 1 0 -8.4 0zM173.06 1415.3a4.2 4.2 0 1 0 8.4 0a4.2 4.2 0 1 0 -8.4 0zM189.29 1404.7a4.2 4.2 0 1 0 8.4 0a4.2 4.2 0 1 0 -8.4 0zM205.52 1386a4.2 4.2 0 1 0 8.4 0a4.2 4.2 0 1 0 -8.4 0zM221.75 1373.3a4.2 4.2 0 1 0 8.4 0a4.2 4.2 0 1 0 -8.4 0zM237.98 1360.6a4.2 4.2 0 1 0 8.4 0a4.2 4.2 0 1 0 -8.4 0zM254.21 1348.5a4.2 4.2 0 1 0 8.4 0a4.2 4.2 0 1 0 -8.4 0zM270.44 1333.1a4.2 4.2 0 1 0 8.4 0a4.2 4.2 0 1 0 -8.4 0zM286.67 1315.5a4.2 4.2 0 1 0 8.4 0a4.2 4.2 0 1 0 -8.4 0zM302.9 1303.9a4.2 4.2 0 1 0 8.4 0a4.2 4.2 0 1 0 -8.4 0zM319.13 1290.2a4.2 4.2 0 1 0 8.4 0a4.2 4.2 0 1 0 -8.4 0zM335.36 1279.2a4.2 4.2 0 1 0 8.4 0a4.2 4.2 0 1 0 -8.4 0zM351.59 1265.1a4.2 4.2 0 1 0 8.4 0a4.2 4.2 0 1 0 -8.4 0zM367.82 1249.4a4.2 4.2 0 1 0 8.4 0a4.2 4.2 0 1 0 -8.4 0zM384.05 1235.5a4.2 4.2 0 1 0 8.4 0a4.2 4.2 0 1 0 -8.4 0zM400.28 1218.5a4.2 4.2 0 1 0 8.4 0a4.2 4.2 0 1 0 -8.4 0zM416.51 1205.3a4.2 4.2 0 1 0 8.4 0a4.2 4.2 0 1 0 -8.4 0zM432.74 1189.3a4.2 4.2 0 1 0 8.4 0a4.2 4.2 0 1 0 -8.4 0zM448.97 1176.7a4.2 4.2 0 1 0 8.4 0a4.2 4.2 0 1 0 -8.4 0zM465.2 1162.8a4.2 4.2 0 1 0 8.4 0a4.2 4.2 0 1 0 -8.4 0zM481.43 1153.2a4.2 4.2 0 1 0 8.4 0a4.2 4.2 0 1 0 -8.4 0zM497.66 1139.7a4.2 4.2 0 1 0 8.4 0a4.2 4.2 0 1 0 -8.4 0zM513.89 1133.9a4.2 4.2 0 1 0 8.4 0a4.2 4.2 0 1 0 -8.4 0zM530.12 1121a4.2 4.2 0 1 0 8.4 0a4.2 4.2 0 1 0 -8.4 0zM546.35 1110.7a4.2 4.2 0 1 0 8.4 0a4.2 4.2 0 1 0 -8.4 0zM562.58 1105a4.2 4.2 0 1 0 8.4 0a4.2 4.2 0 1 0 -8.4 0zM578.81 1089.9a4.2 4.2 0 1 0 8.4 0a4.2 4.2 0 1 0 -8.4 0zM595.04 1078.3a4.2 4.2 0 1 0 8.4 0a4.2 4.2 0 1 0 -8.4 0zM611.27 1070.1a4.2 4.2 0 1 0 8.4 0a4.2 4.2 0 1 0 -8.4 0zM627.5 1064.2a4.2 4.2 0 1 0 8.4 0a4.2 4.2 0 1 0 -8.4 0zM643.73 1055.5a4.2 4.2 0 1 0 8.4 0a4.2 4.2 0 1 0 -8.4 0zM659.96 1050.8a4.2 4.2 0 1 0 8.4 0a4.2 4.2 0 1 0 -8.4 0zM676.19 1041a4.2 4.2 0 1 0 8.4 0a4.2 4.2 0 1 0 -8.4 0zM692.42 1031.8a4.2 4.2 0 1 0 8.4 0a4.2 4.2 0 1 0 -8.4 0zM708.65 1020.2a4.2 4.2 0 1 0 8.4 0a4.2 4.2 0 1 0 -8.4 0zM724.88 1012.1a4.2 4.2 0 1 0 8.4 0a4.2 4.2 0 1 0 -8.4 0zM741.11 1004.3a4.2 4.2 0 1 0 8.4 0a4.2 4.2 0 1 0 -8.4 0zM757.34 998.5a4.2 4.2 0 1 0 8.4 0a4.2 4.2 0 1 0 -8.4 0zM773.57 987.5a4.2 4.2 0 1 0 8.4 0a4.2 4.2 0 1 0 -8.4 0zM789.8 976.2a4.2 4.2 0 1 0 8.4 0a4.2 4.2 0 1 0 -8.4 0zM806.03 965.8a4.2 4.2 0 1 0 8.4 0a4.2 4.2 0 1 0 -8.4 0zM822.26 957.8a4.2 4.2 0 1 0 8.4 0a4.2 4.2 0 1 0 -8.4 0zM838.49 947.5a4.2 4.2 0 1 0 8.4 0a4.2 4.2 0 1 0 -8.4 0zM854.72 940.1a4.2 4.2 0 1 0 8.4 0a4.2 4.2 0 1 0 -8.4 0zM870.95 928.6a4.2 4.2 0 1 0 8.4 0a4.2 4.2 0 1 0 -8.4 0zM887.18 925.8a4.2 4.2 0 1 0 8.4 0a4.2 4.2 0 1 0 -8.4 0zM903.41 917a4.2 4.2 0 1 0 8.4 0a4.2 4.2 0 1 0 -8.4 0zM919.64 908.7a4.2 4.2 0 1 0 8.4 0a4.2 4.2 0 1 0 -8.4 0zM935.87 902a4.2 4.2 0 1 0 8.4 0a4.2 4.2 0 1 0 -8.4 0zM952.1 892.7a4.2 4.2 0 1 0 8.4 0a4.2 4.2 0 1 0 -8.4 0z" fill="#ff0000"/>
<path d="M144.8 1431.95L150.95 1443.25L138.65 1443.25ZM142.36 1440.52L147.24 1440.52L144.8 1436.03ZM161.03 1413.35L167.18 1424.65L154.88 1424.65ZM158.59 1421.92L163.47 1421.92L161.03 1417.43ZM177.26 1400.85L183.41 1412.15L171.11 1412.15ZM174.82 1409.42L179.7 1409.42L177.26 1404.93ZM193.49 1389.95L199.64 1401.25L187.34 1401.25ZM191.05 1398.52L195.93 1398.52L193.49 1394.03ZM209.72 1377.35L215.87 1388.65L203.57 1388.65ZM207.28 1385.92L212.16 1385.92L209.72 1381.43ZM225.95 1361.15L232.1 1372.45L219.8 1372.45ZM223.51 1369.72L228.39 1369.72L225.95 1365.23ZM242.18 1343.65L248.33 1354.95L236.03 1354.95ZM239.74 1352.22L244.62 1352.22L242.18 1347.73ZM258.41 1330.55L264.56 1341.85L252.26 1341.85ZM255.97 1339.12L260.85 1339.12L258.41 1334.63ZM274.64 1311.75L280.79 1323.05L268.49 1323.05ZM272.2 1320.32L277.08 1320.32L274.64 1315.83ZM290.87 1295.95L297.02 1307.25L284.72 1307.25ZM288.43 1304.52L293.31 1304.52L290.87 1300.03ZM307.1 1280.85L313.25 1292.15L300.95 1292.15ZM304.66 1289.42L309.54 1289.42L307.1 1284.93ZM323.33 1270.95L329.48 1282.25L317.18 1282.25ZM320.89 1279.52L325.77 1279.52L323.33 1275.03ZM339.56 1255.85L345.71 1267.15L333.41 1267.15ZM337.12 1264.42L342 1264.42L339.56 1259.93ZM355.79 1245.95L361.94 1257.25L349.64 1257.25ZM353.35 1254.52L358.23 1254.52L355.79 1250.03ZM372.02 1237.65L378.17 1248.95L365.87 1248.95ZM369.58 1246.22L374.46 1246.22L372.02 1241.73ZM388.25 1228.55L394.4 1239.85L382.1 1239.85ZM385.81 1237.12L390.69 1237.12L388.25 1232.63ZM404.48 1216.15L410.63 1227.45L398.33 1227.45ZM402.04 1224.72L406.92 1224.72L404.48 1220.23ZM420.71 1205.45L426.86 1216.75L414.56 1216.75ZM418.27 1214.02L423.15 1214.02L420.71 1209.53ZM436.94 1195.55L443.09 1206.85L430.79 1206.85ZM434.5 1204.12L439.38 1204.12L436.94 1199.63ZM453.17 1187.25L459.32 1198.55L447.02 1198.55ZM450.73 1195.82L455.61 1195.82L453.17 1191.33ZM469.4 1176.95L475.55 1188.25L463.25 1188.25ZM466.96 1185.52L471.84 1185.52L469.4 1181.03ZM485.63 1167.85L491.78 1179.15L479.48 1179.15ZM483.19 1176.42L488.07 1176.42L485.63 1171.93ZM501.86 1156.35L508.01 1167.65L495.71 1167.65ZM499.42 1164.92L504.3 1164.92L501.86 1160.43ZM518.09 1143.15L524.24 1154.45L511.94 1154.45ZM515.65 1151.72L520.53 1151.72L518.09 1147.23ZM534.32 1135.15L540.47 1146.45L528.17 1146.45ZM531.88 1143.72L536.76 1143.72L534.32 1139.23ZM550.55 1125.25L556.7 1136.55L544.4 1136.55ZM548.11 1133.82L552.99 1133.82L550.55 1129.33ZM566.78 1121.15L572.93 1132.45L560.63 1132.45ZM564.34 1129.72L569.22 1129.72L566.78 1125.23ZM583.01 1110.75L589.16 1122.05L576.86 1122.05ZM580.57 1119.32L585.45 1119.32L583.01 1114.83ZM599.24 1104.15L605.39 1115.45L593.09 1115.45ZM596.8 1112.72L601.68 1112.72L599.24 1108.23ZM615.47 1094.65L621.62 1105.95L609.32 1105.95ZM613.03 1103.22L617.91 1103.22L615.47 1098.73ZM631.7 1085.75L637.85 1097.05L625.55 1097.05ZM629.26 1094.32L634.14 1094.32L631.7 1089.83ZM647.93 1071.55L654.08 1082.85L641.78 1082.85ZM645.49 1080.12L650.37 1080.12L647.93 1075.63ZM664.16 1066.85L670.31 1078.15L658.01 1078.15ZM661.72 1075.42L666.6 1075.42L664.16 1070.93ZM680.39 1054.65L686.54 1065.95L674.24 1065.95ZM677.95 1063.22L682.83 1063.22L680.39 1058.73ZM696.62 1045.65L702.77 1056.95L690.47 1056.95ZM694.18 1054.22L699.06 1054.22L696.62 1049.73ZM712.85 1034.45L719 1045.75L706.7 1045.75ZM710.41 1043.02L715.29 1043.02L712.85 1038.53ZM729.08 1027.25L735.23 1038.55L722.93 1038.55ZM726.64 1035.82L731.52 1035.82L729.08 1031.33ZM745.31 1019.45L751.46 1030.75L739.16 1030.75ZM742.87 1028.02L747.75 1028.02L745.31 1023.53ZM761.54 1015.45L767.69 1026.75L755.39 1026.75ZM759.1 1024.02L763.98 1024.02L761.54 1019.53ZM777.77 1005.35L783.92 1016.65L771.62 1016.65ZM775.33 1013.92L780.21 1013.92L777.77 1009.43ZM794 998.65L800.15 1009.95L787.85 1009.95ZM791.56 1007.22L796.44 1007.22L794 1002.73ZM810.23 990.25L816.38 1001.55L804.08 1001.55ZM807.79 998.82L812.67 998.82L810.23 994.33ZM826.46 982.05L832.61 993.35L820.31 993.35ZM824.02 990.62L828.9 990.62L826.46 986.13ZM842.69 968.15L848.84 979.45L836.54 979.45ZM840.25 976.72L845.13 976.72L842.69 972.23ZM858.92 961.45L865.07 972.75L852.77 972.75ZM856.48 970.02L861.36 970.02L858.92 965.53ZM875.15 953.95L881.3 965.25L869 965.25ZM872.71 962.52L877.59 962.52L875.15 958.03ZM891.38 946.55L897.53 957.85L885.23 957.85ZM888.94 955.12L893.82 955.12L891.38 950.63ZM907.61 940.55L913.76 951.85L901.46 951.85ZM905.17 949.12L910.05 949.12L907.61 944.63ZM923.84 935.95L929.99 947.25L917.69 947.25ZM921.4 944.52L926.28 944.52L923.84 940.03ZM940.07 929.05L946.22 940.35L933.92 940.35ZM937.63 937.62L942.51 937.62L940.07 933.13ZM956.3 921.95L962.45 933.25L950.15 933.25ZM953.86 930.52L958.74 930.52L956.3 926.03Z" fill="#00ff00" fill-rule="evenodd"/>
</g>
<path d="M307.1 1508.6V1520.9M631.7 1508.6V1520.9M956.3 1508.6V1520.9M144.8 1508.6V1514.6M469.4 1508.6V1514.6M794 1508.6V1514.6M145.2 1508.6H132.2M145.2 1421.7H132.2M145.2 1334.8H132.2M145.2 1247.9H132.2M145.2 1161H132.2M145.2 1074.1H132.2M145.2 987.2H132.2M145.2 900.3H132.2M145.2 1465.15H138.7M145.2 1378.25H138.7M145.2 1291.35H138.7M145.2 1204.45H138.7M145.2 1117.55H138.7M145.2 1030.65H138.7M145.2 943.75H138.7M145.2 856.85H138.7" stroke="#000" stroke-width="3" fill="none"/>
<rect x="145.2" y="857.5" width="811.1" height="651.1" stroke="#000" stroke-width="3" fill="none"/>
<text x="123" y="1520.4" font-family="Liberation Serif" font-weight="bold" font-size="35" text-anchor="end">10</text>
<text x="123" y="1433.5" font-family="Liberation Serif" font-weight="bold" font-size="35" text-anchor="end">11</text>
<text x="123" y="1346.6" font-family="Liberation Serif" font-weight="bold" font-size="35" text-anchor="end">12</text>
<text x="123" y="1259.7" font-family="Liberation Serif" font-weight="bold" font-size="35" text-anchor="end">13</text>
<text x="123" y="1172.8" font-family="Liberation Serif" font-weight="bold" font-size="35" text-anchor="end">14</text>
<text x="123" y="1085.9" font-family="Liberation Serif" font-weight="bold" font-size="35" text-anchor="end">15</text>
<text x="123" y="999" font-family="Liberation Serif" font-weight="bold" font-size="35" text-anchor="end">16</text>
<text x="123" y="912.1" font-family="Liberation Serif" font-weight="bold" font-size="35" text-anchor="end">17</text>
<text x="143.3" y="1556" font-family="Liberation Serif" font-weight="bold" font-size="35" text-anchor="middle">2.5</text>
<text x="307.1" y="1556" font-family="Liberation Serif" font-weight="bold" font-size="35" text-anchor="middle">3</text>
<text x="631.7" y="1556" font-family="Liberation Serif" font-weight="bold" font-size="35" text-anchor="middle">4</text>
<text x="956.3" y="1556" font-family="Liberation Serif" font-weight="bold" font-size="35" text-anchor="middle">5</text>
<text x="550.6" y="1620" font-family="Liberation Serif" font-weight="bold" font-size="40.8" text-anchor="middle">Time/ps</text>
<text transform="translate(49.7,1183.3) rotate(-90)" x="0" y="0" font-family="Liberation Serif" font-weight="bold" font-size="40.8" text-anchor="middle">Cumulative Sums of Generated Bonds</text>
<text x="-1.4" y="807.5" font-family="Liberation Serif" font-weight="bold" font-size="63.5">(b)</text>
<text x="178" y="922" font-family="Liberation Serif" font-weight="bold" font-size="42">C–O</text>
<path d="M208 960.8h7v7h-7z" fill="#000"/><path d="M207.5 998.7a4 4 0 1 0 8 0a4 4 0 1 0 -8 0z" fill="#ff0000"/><path d="M211.5 1032.85L217.65 1044.15L205.35 1044.15ZM209.06 1041.42L213.94 1041.42L211.5 1036.93Z" fill="#00ff00" fill-rule="evenodd"/>
<text x="250.8" y="972.9" font-family="Liberation Serif" font-weight="bold" font-size="27.5">pure ICM-102</text>
<text x="250.8" y="1007.9" font-family="Liberation Serif" font-weight="bold" font-size="27.5">ICM-102/HNO<tspan font-size="18" dy="7.8">3</tspan></text>
<text x="250.8" y="1048.1" font-family="Liberation Serif" font-weight="bold" font-size="27.5">ICM-102/H<tspan font-size="18" dy="7.8">2</tspan><tspan dy="-7.8">O</tspan><tspan font-size="18" dy="7.8">2</tspan></text>
<rect x="653.4" y="1270.3" width="257.5" height="188.2" fill="#fff"/>
<g clip-path="url(#ci)">
<path d="M651.2 1456.1h4.4v4.4h-4.4zM656.35 1452.4h4.4v4.4h-4.4zM661.5 1447.5h4.4v4.4h-4.4zM666.65 1443.1h4.4v4.4h-4.4zM671.8 1439.4h4.4v4.4h-4.4zM676.95 1435.4h4.4v4.4h-4.4zM682.1 1431.4h4.4v4.4h-4.4zM687.25 1427h4.4v4.4h-4.4zM692.4 1422.1h4.4v4.4h-4.4zM697.55 1417.1h4.4v4.4h-4.4zM702.7 1412.5h4.4v4.4h-4.4zM707.85 1407.8h4.4v4.4h-4.4zM713 1405.3h4.4v4.4h-4.4zM718.15 1399.6h4.4v4.4h-4.4zM723.3 1395.9h4.4v4.4h-4.4zM728.45 1390.3h4.4v4.4h-4.4zM733.6 1386h4.4v4.4h-4.4zM738.75 1381h4.4v4.4h-4.4zM743.9 1376.7h4.4v4.4h-4.4zM749.05 1371.7h4.4v4.4h-4.4zM754.2 1367.4h4.4v4.4h-4.4zM759.35 1362.2h4.4v4.4h-4.4zM764.5 1357.1h4.4v4.4h-4.4zM769.65 1354.3h4.4v4.4h-4.4zM774.8 1350h4.4v4.4h-4.4zM779.95 1345.7h4.4v4.4h-4.4zM785.1 1341.3h4.4v4.4h-4.4zM790.25 1337.7h4.4v4.4h-4.4zM795.4 1332.6h4.4v4.4h-4.4zM800.55 1328.7h4.4v4.4h-4.4zM805.7 1324.4h4.4v4.4h-4.4zM810.85 1318.9h4.4v4.4h-4.4zM816 1315.3h4.4v4.4h-4.4zM821.15 1310.9h4.4v4.4h-4.4zM826.3 1307.3h4.4v4.4h-4.4zM831.45 1303.7h4.4v4.4h-4.4zM836.6 1300.9h4.4v4.4h-4.4zM841.75 1297.3h4.4v4.4h-4.4zM846.9 1294.4h4.4v4.4h-4.4zM852.05 1290.8h4.4v4.4h-4.4zM857.2 1286.8h4.4v4.4h-4.4zM862.35 1282.8h4.4v4.4h-4.4zM867.5 1279.2h4.4v4.4h-4.4zM872.65 1275.6h4.4v4.4h-4.4zM877.8 1272.4h4.4v4.4h-4.4zM882.95 1269.5h4.4v4.4h-4.4z" fill="#000"/>
<path d="M651 1458.8a2.4 2.4 0 1 0 4.8 0a2.4 2.4 0 1 0 -4.8 0zM656.15 1455.1a2.4 2.4 0 1 0 4.8 0a2.4 2.4 0 1 0 -4.8 0zM661.3 1450.2a2.4 2.4 0 1 0 4.8 0a2.4 2.4 0 1 0 -4.8 0zM666.45 1445.8a2.4 2.4 0 1 0 4.8 0a2.4 2.4 0 1 0 -4.8 0zM671.6 1442.1a2.4 2.4 0 1 0 4.8 0a2.4 2.4 0 1 0 -4.8 0zM676.75 1438.1a2.4 2.4 0 1 0 4.8 0a2.4 2.4 0 1 0 -4.8 0zM681.9 1434.1a2.4 2.4 0 1 0 4.8 0a2.4 2.4 0 1 0 -4.8 0zM687.05 1429.7a2.4 2.4 0 1 0 4.8 0a2.4 2.4 0 1 0 -4.8 0zM692.2 1424.8a2.4 2.4 0 1 0 4.8 0a2.4 2.4 0 1 0 -4.8 0zM697.35 1419.8a2.4 2.4 0 1 0 4.8 0a2.4 2.4 0 1 0 -4.8 0zM702.5 1415.2a2.4 2.4 0 1 0 4.8 0a2.4 2.4 0 1 0 -4.8 0zM707.65 1410.5a2.4 2.4 0 1 0 4.8 0a2.4 2.4 0 1 0 -4.8 0zM712.8 1408a2.4 2.4 0 1 0 4.8 0a2.4 2.4 0 1 0 -4.8 0zM717.95 1400.8a2.4 2.4 0 1 0 4.8 0a2.4 2.4 0 1 0 -4.8 0zM723.1 1397.1a2.4 2.4 0 1 0 4.8 0a2.4 2.4 0 1 0 -4.8 0zM728.25 1391.5a2.4 2.4 0 1 0 4.8 0a2.4 2.4 0 1 0 -4.8 0zM733.4 1387.2a2.4 2.4 0 1 0 4.8 0a2.4 2.4 0 1 0 -4.8 0zM738.55 1382.2a2.4 2.4 0 1 0 4.8 0a2.4 2.4 0 1 0 -4.8 0zM743.7 1377.9a2.4 2.4 0 1 0 4.8 0a2.4 2.4 0 1 0 -4.8 0zM748.85 1372.9a2.4 2.4 0 1 0 4.8 0a2.4 2.4 0 1 0 -4.8 0zM754 1368.6a2.4 2.4 0 1 0 4.8 0a2.4 2.4 0 1 0 -4.8 0zM759.15 1363.4a2.4 2.4 0 1 0 4.8 0a2.4 2.4 0 1 0 -4.8 0zM764.3 1358.3a2.4 2.4 0 1 0 4.8 0a2.4 2.4 0 1 0 -4.8 0zM769.45 1356.8a2.4 2.4 0 1 0 4.8 0a2.4 2.4 0 1 0 -4.8 0zM774.6 1352.5a2.4 2.4 0 1 0 4.8 0a2.4 2.4 0 1 0 -4.8 0zM779.75 1348.2a2.4 2.4 0 1 0 4.8 0a2.4 2.4 0 1 0 -4.8 0zM784.9 1343.8a2.4 2.4 0 1 0 4.8 0a2.4 2.4 0 1 0 -4.8 0zM790.05 1340.2a2.4 2.4 0 1 0 4.8 0a2.4 2.4 0 1 0 -4.8 0zM795.2 1335.1a2.4 2.4 0 1 0 4.8 0a2.4 2.4 0 1 0 -4.8 0zM800.35 1331.2a2.4 2.4 0 1 0 4.8 0a2.4 2.4 0 1 0 -4.8 0zM805.5 1326.9a2.4 2.4 0 1 0 4.8 0a2.4 2.4 0 1 0 -4.8 0zM810.65 1321.4a2.4 2.4 0 1 0 4.8 0a2.4 2.4 0 1 0 -4.8 0zM815.8 1317.8a2.4 2.4 0 1 0 4.8 0a2.4 2.4 0 1 0 -4.8 0zM820.95 1313.4a2.4 2.4 0 1 0 4.8 0a2.4 2.4 0 1 0 -4.8 0zM826.1 1309.8a2.4 2.4 0 1 0 4.8 0a2.4 2.4 0 1 0 -4.8 0zM831.25 1306.2a2.4 2.4 0 1 0 4.8 0a2.4 2.4 0 1 0 -4.8 0zM836.4 1302.6a2.4 2.4 0 1 0 4.8 0a2.4 2.4 0 1 0 -4.8 0zM841.55 1299a2.4 2.4 0 1 0 4.8 0a2.4 2.4 0 1 0 -4.8 0zM846.7 1296.1a2.4 2.4 0 1 0 4.8 0a2.4 2.4 0 1 0 -4.8 0zM851.85 1292.5a2.4 2.4 0 1 0 4.8 0a2.4 2.4 0 1 0 -4.8 0zM857 1288.5a2.4 2.4 0 1 0 4.8 0a2.4 2.4 0 1 0 -4.8 0zM862.15 1284.5a2.4 2.4 0 1 0 4.8 0a2.4 2.4 0 1 0 -4.8 0zM867.3 1280.9a2.4 2.4 0 1 0 4.8 0a2.4 2.4 0 1 0 -4.8 0zM872.45 1277.3a2.4 2.4 0 1 0 4.8 0a2.4 2.4 0 1 0 -4.8 0zM877.6 1274.1a2.4 2.4 0 1 0 4.8 0a2.4 2.4 0 1 0 -4.8 0zM882.75 1271.2a2.4 2.4 0 1 0 4.8 0a2.4 2.4 0 1 0 -4.8 0z" fill="#ff0000"/>
<path d="M653.4 1455.1L656.3 1460.5L650.5 1460.5ZM652.76 1458.82L654.04 1458.82L653.4 1457.64ZM658.55 1451.4L661.45 1456.8L655.65 1456.8ZM657.91 1455.12L659.19 1455.12L658.55 1453.94ZM663.7 1446.5L666.6 1451.9L660.8 1451.9ZM663.06 1450.22L664.34 1450.22L663.7 1449.04ZM668.85 1442.1L671.75 1447.5L665.95 1447.5ZM668.21 1445.82L669.49 1445.82L668.85 1444.64ZM674 1438.4L676.9 1443.8L671.1 1443.8ZM673.36 1442.12L674.64 1442.12L674 1440.94ZM679.15 1434.4L682.05 1439.8L676.25 1439.8ZM678.51 1438.12L679.79 1438.12L679.15 1436.94ZM684.3 1430.4L687.2 1435.8L681.4 1435.8ZM683.66 1434.12L684.94 1434.12L684.3 1432.94ZM689.45 1426L692.35 1431.4L686.55 1431.4ZM688.81 1429.72L690.09 1429.72L689.45 1428.54ZM694.6 1421.1L697.5 1426.5L691.7 1426.5ZM693.96 1424.82L695.24 1424.82L694.6 1423.64ZM699.75 1416.1L702.65 1421.5L696.85 1421.5ZM699.11 1419.82L700.39 1419.82L699.75 1418.64ZM704.9 1411.5L707.8 1416.9L702 1416.9ZM704.26 1415.22L705.54 1415.22L704.9 1414.04ZM710.05 1406.8L712.95 1412.2L707.15 1412.2ZM709.41 1410.52L710.69 1410.52L710.05 1409.34ZM715.2 1404.3L718.1 1409.7L712.3 1409.7ZM714.56 1408.02L715.84 1408.02L715.2 1406.84ZM720.35 1400.6L723.25 1406L717.45 1406ZM719.71 1404.32L720.99 1404.32L720.35 1403.14ZM725.5 1396.9L728.4 1402.3L722.6 1402.3ZM724.86 1400.62L726.14 1400.62L725.5 1399.44ZM730.65 1391.3L733.55 1396.7L727.75 1396.7ZM730.01 1395.02L731.29 1395.02L730.65 1393.84ZM735.8 1387L738.7 1392.4L732.9 1392.4ZM735.16 1390.72L736.44 1390.72L735.8 1389.54ZM740.95 1382L743.85 1387.4L738.05 1387.4ZM740.31 1385.72L741.59 1385.72L740.95 1384.54ZM746.1 1377.7L749 1383.1L743.2 1383.1ZM745.46 1381.42L746.74 1381.42L746.1 1380.24ZM751.25 1372.7L754.15 1378.1L748.35 1378.1ZM750.61 1376.42L751.89 1376.42L751.25 1375.24ZM756.4 1368.4L759.3 1373.8L753.5 1373.8ZM755.76 1372.12L757.04 1372.12L756.4 1370.94ZM761.55 1363.2L764.45 1368.6L758.65 1368.6ZM760.91 1366.92L762.19 1366.92L761.55 1365.74ZM766.7 1358.1L769.6 1363.5L763.8 1363.5ZM766.06 1361.82L767.34 1361.82L766.7 1360.64ZM771.85 1353.3L774.75 1358.7L768.95 1358.7ZM771.21 1357.02L772.49 1357.02L771.85 1355.84ZM777 1349L779.9 1354.4L774.1 1354.4ZM776.36 1352.72L777.64 1352.72L777 1351.54ZM782.15 1344.7L785.05 1350.1L779.25 1350.1ZM781.51 1348.42L782.79 1348.42L782.15 1347.24ZM787.3 1340.3L790.2 1345.7L784.4 1345.7ZM786.66 1344.02L787.94 1344.02L787.3 1342.84ZM792.45 1336.7L795.35 1342.1L789.55 1342.1ZM791.81 1340.42L793.09 1340.42L792.45 1339.24ZM797.6 1331.6L800.5 1337L794.7 1337ZM796.96 1335.32L798.24 1335.32L797.6 1334.14ZM802.75 1327.7L805.65 1333.1L799.85 1333.1ZM802.11 1331.42L803.39 1331.42L802.75 1330.24ZM807.9 1323.4L810.8 1328.8L805 1328.8ZM807.26 1327.12L808.54 1327.12L807.9 1325.94ZM813.05 1317.9L815.95 1323.3L810.15 1323.3ZM812.41 1321.62L813.69 1321.62L813.05 1320.44ZM818.2 1314.3L821.1 1319.7L815.3 1319.7ZM817.56 1318.02L818.84 1318.02L818.2 1316.84ZM823.35 1309.9L826.25 1315.3L820.45 1315.3ZM822.71 1313.62L823.99 1313.62L823.35 1312.44ZM828.5 1306.3L831.4 1311.7L825.6 1311.7ZM827.86 1310.02L829.14 1310.02L828.5 1308.84ZM833.65 1302.7L836.55 1308.1L830.75 1308.1ZM833.01 1306.42L834.29 1306.42L833.65 1305.24ZM838.8 1298.4L841.7 1303.8L835.9 1303.8ZM838.16 1302.12L839.44 1302.12L838.8 1300.94ZM843.95 1294.8L846.85 1300.2L841.05 1300.2ZM843.31 1298.52L844.59 1298.52L843.95 1297.34ZM849.1 1291.9L852 1297.3L846.2 1297.3ZM848.46 1295.62L849.74 1295.62L849.1 1294.44ZM854.25 1288.3L857.15 1293.7L851.35 1293.7ZM853.61 1292.02L854.89 1292.02L854.25 1290.84ZM859.4 1284.3L862.3 1289.7L856.5 1289.7ZM858.76 1288.02L860.04 1288.02L859.4 1286.84ZM864.55 1280.3L867.45 1285.7L861.65 1285.7ZM863.91 1284.02L865.19 1284.02L864.55 1282.84ZM869.7 1276.7L872.6 1282.1L866.8 1282.1ZM869.06 1280.42L870.34 1280.42L869.7 1279.24ZM874.85 1273.1L877.75 1278.5L871.95 1278.5ZM874.21 1276.82L875.49 1276.82L874.85 1275.64ZM880 1269.9L882.9 1275.3L877.1 1275.3ZM879.36 1273.62L880.64 1273.62L880 1272.44ZM885.15 1267L888.05 1272.4L882.25 1272.4ZM884.51 1270.72L885.79 1270.72L885.15 1269.54Z" fill="#00ff00" fill-rule="evenodd"/>
</g>
<path d="M653.4 1458.5V1462.5M756.4 1458.5V1462.5M859.4 1458.5V1462.5M704.9 1458.5V1461M807.9 1458.5V1461M653.4 1458.5H649.4M653.4 1420.84H649.4M653.4 1383.18H649.4M653.4 1345.52H649.4M653.4 1307.86H649.4M653.4 1270.2H649.4M653.4 1439.67H650.9M653.4 1402.01H650.9M653.4 1364.35H650.9M653.4 1326.69H650.9M653.4 1289.03H650.9" stroke="#000" stroke-width="2.2" fill="none"/>
<rect x="653.4" y="1270.3" width="257.5" height="188.2" stroke="#000" stroke-width="2.7" fill="none"/>
<text x="647.2" y="1465.1" font-family="Liberation Serif" font-weight="bold" font-size="19.8" text-anchor="end">0</text>
<text x="647.2" y="1427.44" font-family="Liberation Serif" font-weight="bold" font-size="19.8" text-anchor="end">2</text>
<text x="647.2" y="1389.78" font-family="Liberation Serif" font-weight="bold" font-size="19.8" text-anchor="end">4</text>
<text x="647.2" y="1352.12" font-family="Liberation Serif" font-weight="bold" font-size="19.8" text-anchor="end">6</text>
<text x="647.2" y="1314.46" font-family="Liberation Serif" font-weight="bold" font-size="19.8" text-anchor="end">8</text>
<text x="647.2" y="1276.8" font-family="Liberation Serif" font-weight="bold" font-size="19.8" text-anchor="end">10</text>
<text x="653.4" y="1480.6" font-family="Liberation Serif" font-weight="bold" font-size="19.8" text-anchor="middle">0</text>
<text x="756.4" y="1480.6" font-family="Liberation Serif" font-weight="bold" font-size="19.8" text-anchor="middle">1</text>
<text x="859.4" y="1480.6" font-family="Liberation Serif" font-weight="bold" font-size="19.8" text-anchor="middle">2</text>
<text x="911.5" y="1480.6" font-family="Liberation Serif" font-weight="bold" font-size="19.8" text-anchor="middle">2.5</text>
</svg></body></html>
